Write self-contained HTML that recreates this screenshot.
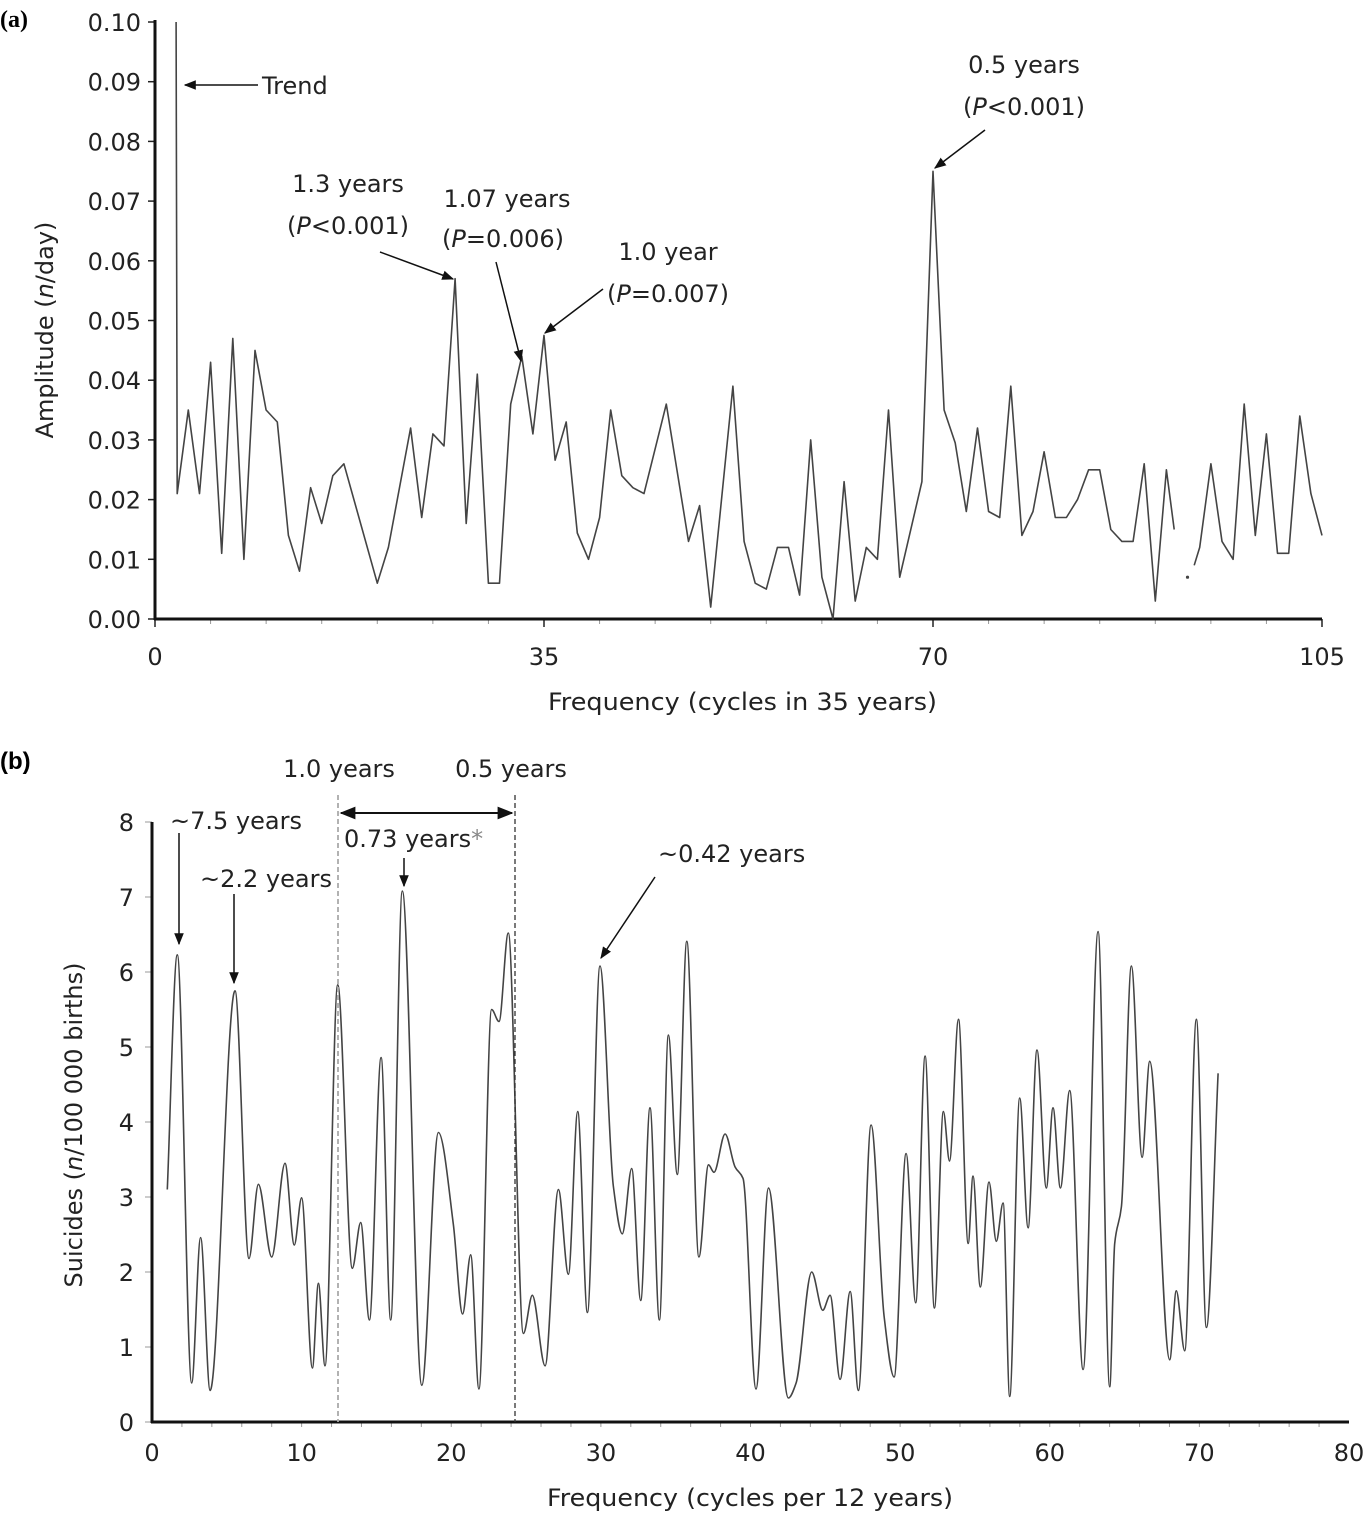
<!DOCTYPE html>
<html><head><meta charset="utf-8">
<style>
html,body{margin:0;padding:0;background:#fff;}
svg{display:block;font-family:"DejaVu Sans","Liberation Sans",sans-serif;}
.t{font-size:24px;fill:#222;}
</style></head>
<body>
<svg id="chart" width="1365" height="1515" viewBox="0 0 1365 1515" xmlns="http://www.w3.org/2000/svg">
<defs>
<marker id="ah" viewBox="0 0 10 10" refX="9" refY="5" markerWidth="8" markerHeight="8" orient="auto-start-reverse"><path d="M0,1 L10,5 L0,9 z" fill="#111"/></marker>
</defs>
<g id="pa"></g>
<g id="pb"></g>
</svg>
<script>
// ---- Panel (a) data ----
const freqA = [1.9,2,3,4,5,6,7,8,9,10,11,12,13,14,15,16,17,20,21,23,24,25,26,27,28,29,30,31,32,33,34,35,36,37,38,39,40,41,42,43,44,46,48,49,50,52,53,54,55,56,57,58,59,60,61,62,63,64,65,66,67,69,70,71,72,73,74,75,76,77,78,79,80,81,82,83,84,85,86,87,88,89,90,91,91.7,92.5,93.5,94,95,96,97,98,99,100,101,102,103,104,105];
const ampA = [0.100,0.021,0.035,0.021,0.043,0.011,0.047,0.010,0.045,0.035,0.033,0.014,0.008,0.022,0.016,0.024,0.026,0.006,0.012,0.032,0.017,0.031,0.029,0.057,0.016,0.041,0.006,0.006,0.036,0.044,0.031,0.0475,0.0266,0.033,0.0144,0.010,0.017,0.035,0.024,0.022,0.021,0.036,0.013,0.019,0.002,0.039,0.013,0.006,0.005,0.012,0.012,0.004,0.030,0.007,0.000,0.023,0.003,0.012,0.010,0.035,0.007,0.023,0.075,0.035,0.0295,0.018,0.032,0.018,0.017,0.039,0.014,0.018,0.028,0.017,0.017,0.020,0.025,0.025,0.015,0.013,0.013,0.026,0.003,0.025,0.015,null,0.009,0.012,0.026,0.013,0.010,0.036,0.014,0.031,0.011,0.011,0.034,0.021,0.014];
const dotA = [92.9, 0.007];
const xTicksA = [0,35,70,105];
const yTicksA = [0,0.01,0.02,0.03,0.04,0.05,0.06,0.07,0.08,0.09,0.10];

// ---- Panel (b) data ----
const freqB = [1.02,1.69,2.65,3.25,3.88,5.55,6.48,7.11,8.0,8.89,9.51,10.0,10.72,11.12,11.56,12.41,13.39,13.95,14.53,15.31,15.95,16.73,18.03,19.14,20.14,20.76,21.3,21.85,22.7,23.19,23.81,24.82,25.42,26.27,27.16,27.83,28.45,29.1,29.94,30.83,31.43,32.06,32.66,33.28,33.91,34.51,35.11,35.74,36.55,37.19,37.56,38.3,38.97,39.5,40.37,41.2,42.53,43.05,44.09,44.83,45.32,45.99,46.66,47.21,48.06,48.93,49.6,50.4,51.04,51.67,52.29,52.89,53.3,53.9,54.55,54.87,55.36,55.94,56.43,56.88,57.32,57.99,58.55,59.15,59.77,60.22,60.71,61.33,62.23,63.23,64.01,64.34,64.79,65.46,66.17,66.68,68.02,68.46,69.02,69.8,70.47,71.25];
const valB = [3.10,6.23,0.52,2.46,0.42,5.75,2.18,3.17,2.20,3.45,2.36,2.99,0.72,1.85,0.75,5.83,2.05,2.66,1.36,4.86,1.36,7.08,0.49,3.86,2.64,1.44,2.23,0.44,5.50,5.34,6.52,1.18,1.69,0.75,3.10,1.97,4.14,1.46,6.08,3.15,2.51,3.38,1.62,4.19,1.36,5.16,3.30,6.41,2.2,3.43,3.33,3.84,3.40,3.25,0.44,3.12,0.32,0.52,2.00,1.49,1.69,0.57,1.74,0.42,3.96,1.41,0.60,3.58,1.59,4.88,1.52,4.14,3.48,5.37,2.38,3.28,1.80,3.20,2.41,2.92,0.34,4.32,2.59,4.96,3.12,4.19,3.12,4.42,0.70,6.54,0.47,2.38,2.87,6.08,3.53,4.81,0.83,1.75,0.95,5.37,1.26,4.65];
const xTicksB = [0,10,20,30,40,50,60,70,80];
const yTicksB = [0,1,2,3,4,5,6,7,8];

const NS = "http://www.w3.org/2000/svg";
function mk(parent, tag, attrs, text){
  const e = document.createElementNS(NS, tag);
  for (const k in attrs) e.setAttribute(k, attrs[k]);
  if (text !== undefined) e.textContent = text;
  parent.appendChild(e);
  return e;
}

// ================= Panel A =================
const pa = document.getElementById('pa');
const ax0 = 155, ax1 = 1322, ay0 = 619, ay1 = 22;
const xA = f => ax0 + (f/105)*(ax1-ax0);
const yA = v => ay0 - (v/0.10)*(ay0-ay1);

let t = mk(pa,'text',{x:0,y:27,'font-family':'Liberation Serif, serif','font-weight':'bold','font-size':'24'},'(a)');



yTicksA.forEach(v=>{
  const y = yA(v);
  const l = mk(pa,'line',{x1:ax0-7,y1:y,x2:ax0,y2:y,stroke:'#222','stroke-width':1.5});
  
  
  const tx = mk(pa,'text',{x:ax0-14,y:y+9,'text-anchor':'end',class:'t'},v.toFixed(2));
  
  
});
for (let f=5; f<105; f+=5){
  const l = mk(pa,'line',{x1:xA(f),y1:ay0,x2:xA(f),y2:ay0+5,stroke:'#999','stroke-width':1});
  
  
}
xTicksA.forEach(f=>{
  const l = mk(pa,'line',{x1:xA(f),y1:ay0,x2:xA(f),y2:ay0+8,stroke:'#222','stroke-width':1.5});
  
  
  const tx = mk(pa,'text',{x:xA(f),y:665,'text-anchor':'middle',class:'t'},String(f));
  
  
});
let axl = mk(pa,'line',{x1:ax0,y1:ay1-2,x2:ax0,y2:ay0+1,stroke:'#111','stroke-width':3});


axl = mk(pa,'line',{x1:ax0-1,y1:ay0,x2:ax1,y2:ay0,stroke:'#111','stroke-width':3});



let d = '', pen = false;
freqA.forEach((f,i)=>{
  const v = ampA[i];
  if (v === null){ pen = false; return; }
  d += (pen?'L':'M') + xA(f).toFixed(1) + ',' + yA(v).toFixed(1) + ' ';
  pen = true;
});
let ln = mk(pa,'path',{d:d,fill:'none',stroke:'#444','stroke-width':1.6,'stroke-linejoin':'round'});


let dt = mk(pa,'circle',{cx:xA(dotA[0]),cy:yA(dotA[1]),r:1.6,fill:'#444'});



t = mk(pa,'text',{x:548,y:710,class:'t',textLength:389,lengthAdjust:'spacingAndGlyphs'},'Frequency (cycles in 35 years)');


t = mk(pa,'text',{x:0,y:0,class:'t','text-anchor':'middle',transform:'translate(53,330) rotate(-90)'});
t.innerHTML = 'Amplitude (<tspan font-style="italic">n</tspan>/day)';



function annot(parent, name, lines, arrow){
  const g = mk(parent,'g',{});
  
  
  lines.forEach(L=>{
    const tx = mk(g,'text',{x:L[0],y:L[1],'text-anchor':L[3]||'middle',class:'t'});
    tx.innerHTML = L[2];
  });
  if (arrow){
    mk(g,'line',{x1:arrow[0],y1:arrow[1],x2:arrow[2],y2:arrow[3],stroke:'#111','stroke-width':1.5,'marker-end':'url(#ah)'});
  }
}
annot(pa,'trend-annotation',[[262,94,'Trend','start']],[258,85,185,85]);
annot(pa,'annotation-1-3-years',[[348,192,'1.3 years'],[348,234,'(<tspan font-style="italic">P</tspan>&lt;0.001)']],[380,252,453,279]);
annot(pa,'annotation-1-07-years',[[507,207,'1.07 years'],[503,247,'(<tspan font-style="italic">P</tspan>=0.006)']],[496,262,521,361]);
annot(pa,'annotation-1-0-year',[[668,260,'1.0 year'],[668,302,'(<tspan font-style="italic">P</tspan>=0.007)']],[603,289,545,333]);
annot(pa,'annotation-0-5-years',[[1024,73,'0.5 years'],[1024,115,'(<tspan font-style="italic">P</tspan>&lt;0.001)']],[985,130,935,168]);

// ================= Panel B =================
const pb = document.getElementById('pb');
const bx0 = 152, bx1 = 1349, by0 = 1422, by1 = 822;
const xB = f => bx0 + (f/80)*(bx1-bx0);
const yB = v => by0 - (v/8)*(by0-by1);

t = mk(pb,'text',{x:0,y:769,'font-family':'Liberation Sans, sans-serif','font-weight':'bold','font-size':'24'},'(b)');



yTicksB.forEach(v=>{
  const y = yB(v);
  const l = mk(pb,'line',{x1:bx0-7,y1:y,x2:bx0,y2:y,stroke:'#999','stroke-width':1});
  
  
  const tx = mk(pb,'text',{x:bx0-18,y:y+9,'text-anchor':'end',class:'t'},String(v));
  
  
});
for (let f=2; f<80; f+=2){
  const l = mk(pb,'line',{x1:xB(f),y1:by0,x2:xB(f),y2:by0+5,stroke:'#999','stroke-width':1});
  
  
}
xTicksB.forEach(f=>{
  const tx = mk(pb,'text',{x:xB(f),y:1461,'text-anchor':'middle',class:'t'},String(f));
  
  
});
axl = mk(pb,'line',{x1:bx0,y1:by1,x2:bx0,y2:by0+1,stroke:'#111','stroke-width':3});


axl = mk(pb,'line',{x1:bx0-1,y1:by0,x2:bx1,y2:by0,stroke:'#111','stroke-width':3});



// monotone cubic (Fritsch-Carlson) to avoid overshoot
const px = freqB.map(f=>xB(f)), py = valB.map(v=>yB(v));
const n = px.length, dk = [], m = [];
for (let i=0;i<n-1;i++) dk.push((py[i+1]-py[i])/(px[i+1]-px[i]));
for (let i=0;i<n;i++){
  if (i===0) m.push(dk[0]);
  else if (i===n-1) m.push(dk[n-2]);
  else if (dk[i-1]*dk[i] <= 0) m.push(0);
  else { const w1 = 2*(px[i+1]-px[i])+(px[i]-px[i-1]), w2 = (px[i+1]-px[i])+2*(px[i]-px[i-1]); m.push((w1+w2)/(w1/dk[i-1]+w2/dk[i])); }
}
let db = 'M' + px[0].toFixed(1) + ',' + py[0].toFixed(1);
for (let i=0;i<n-1;i++){
  const h = px[i+1]-px[i];
  db += ' C' + (px[i]+h/3).toFixed(1)+','+(py[i]+m[i]*h/3).toFixed(1)+' '+(px[i+1]-h/3).toFixed(1)+','+(py[i+1]-m[i+1]*h/3).toFixed(1)+' '+px[i+1].toFixed(1)+','+py[i+1].toFixed(1);
}
ln = mk(pb,'path',{d:db,fill:'none',stroke:'#444','stroke-width':1.6,'stroke-linejoin':'round'});



// reference lines
let rl = mk(pb,'line',{x1:338,y1:795,x2:338,y2:by0,stroke:'#aaa','stroke-width':1.8,'stroke-dasharray':'5,3'});


rl = mk(pb,'line',{x1:515,y1:795,x2:515,y2:by0,stroke:'#333','stroke-width':1.3,'stroke-dasharray':'5,3'});


rl = mk(pb,'line',{x1:341,y1:813,x2:512,y2:813,stroke:'#111','stroke-width':2,'marker-end':'url(#ah)','marker-start':'url(#ah)'});



annot(pb,'label-1-0-years',[[339,777,'1.0 years']],null);
annot(pb,'label-0-5-years',[[511,777,'0.5 years']],null);
annot(pb,'annotation-7-5-years',[[170,829,'~7.5 years','start']],[179,833,179,944]);
annot(pb,'annotation-2-2-years',[[200,887,'~2.2 years','start']],[234,894,234,983]);
annot(pb,'annotation-0-73-years',[[344,847,'0.73 years<tspan fill="#888">*</tspan>','start']],[404,858,404,886]);
annot(pb,'annotation-0-42-years',[[658,862,'~0.42 years','start']],[655,877,601,958]);

t = mk(pb,'text',{x:547,y:1506,class:'t',textLength:406,lengthAdjust:'spacingAndGlyphs'},'Frequency (cycles per 12 years)');


t = mk(pb,'text',{x:0,y:0,class:'t','text-anchor':'middle',transform:'translate(82,1125) rotate(-90)'});
t.innerHTML = 'Suicides (<tspan font-style="italic">n</tspan>/100 000 births)';


</script>
</body></html>
